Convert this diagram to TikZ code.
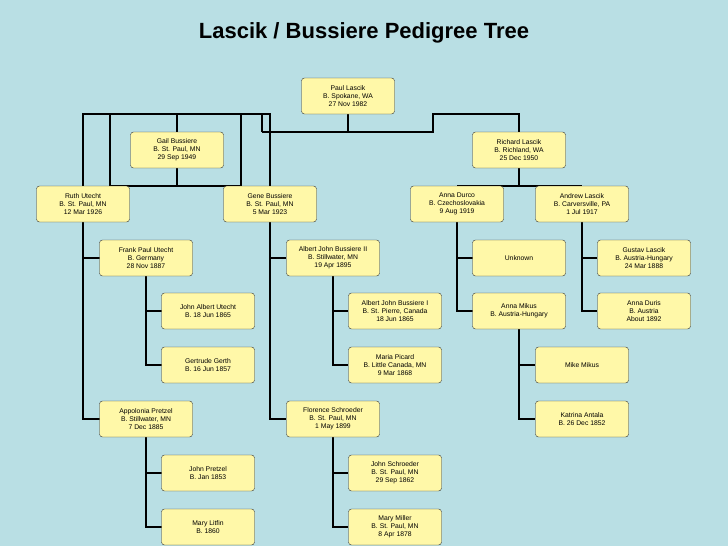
\documentclass[tikz,border=0pt]{standalone}
\usepackage{fontspec}
\setmainfont{Liberation Sans}
\definecolor{bgblue}{HTML}{B9DFE4}
\definecolor{boxyellow}{HTML}{FFF8A8}
\tikzset{
  person/.style={draw=black!80,fill=boxyellow,rounded corners=3pt,minimum width=93pt,minimum height=36pt,
    align=center,font=\fontsize{6.8}{8.2}\selectfont,inner sep=1pt},
  link/.style={line width=2pt,black}
}
\begin{document}
\begin{tikzpicture}[x=1pt,y=-1pt]
        \fill[bgblue] (0,0) rectangle (728,546);
        \node[font=\bfseries\fontsize{22}{26}\selectfont] (title) at (364,33) {Lascik / Bussiere Pedigree Tree};

        % connectors first, boxes are drawn on top
        \coordinate (top) at (348,132);
        \draw[link] (348,114) -- (top);
        \draw[link] (262,132) -- (433,132) -- (433,114) -- (519,114) -- (519,132);
        \draw[link] (262,132) -- (262,114) -- (83,114) -- (83,186);
        \draw[link] (110,114) -- (110,186) -- (242,186);
        \draw[link] (177,114) -- (177,132);
        \draw[link] (177,168) -- (177,186);
        \draw[link] (241,114) -- (241,186);
        \draw[link] (262,114) -- (270,114) -- (270,186);
        \draw[link] (519,168) -- (519,186);
        \draw[link] (457,186) -- (582,186);

        % left side
        \draw[link] (83,222) -- (83,419) -- (100,419);
        \draw[link] (83,258) -- (100,258);
        \draw[link] (146,276) -- (146,365) -- (162,365);
        \draw[link] (146,311) -- (162,311);
        \draw[link] (146,437) -- (146,527) -- (162,527);
        \draw[link] (146,473) -- (162,473);
        \draw[link] (270,222) -- (270,419) -- (286,419);
        \draw[link] (270,258) -- (286,258);
        \draw[link] (333,276) -- (333,365) -- (348,365);
        \draw[link] (333,311) -- (348,311);
        \draw[link] (333,437) -- (333,527) -- (348,527);
        \draw[link] (333,473) -- (348,473);
        % right side
        \draw[link] (457,222) -- (457,311) -- (473,311);
        \draw[link] (457,258) -- (473,258);
        \draw[link] (582,222) -- (582,311) -- (597,311);
        \draw[link] (582,258) -- (597,258);
        \draw[link] (519,329) -- (519,419) -- (535,419);
        \draw[link] (519,365) -- (535,365);

        \node[person] (paul) at (348,96) {Paul Lascik\\B. Spokane, WA\\27 Nov 1982};
        \node[person] (gail) at (177,150) {Gail Bussiere\\B. St. Paul, MN\\29 Sep 1949};
        \node[person] (richard) at (519,150) {Richard Lascik\\B. Richland, WA\\25 Dec 1950};
        \node[person] (ruth) at (83,204) {Ruth Utecht\\B. St. Paul, MN\\12 Mar 1926};
        \node[person] (gene) at (270,204) {Gene Bussiere\\B. St. Paul, MN\\5 Mar 1923};
        \node[person] (durco) at (457,204) {Anna Durco\\B. Czechoslovakia\\9 Aug 1919};
        \node[person] (andrew) at (582,204) {Andrew Lascik\\B. Carversville, PA\\1 Jul 1917};
        \node[person] (frank) at (146,258) {Frank Paul Utecht\\B. Germany\\28 Nov 1887};
        \node[person] (albert2) at (333,258) {Albert John Bussiere II\\B. Stillwater, MN\\19 Apr 1895};
        \node[person] (unknown) at (519,258) {Unknown};
        \node[person] (gustav) at (644,258) {Gustav Lascik\\B. Austria-Hungary\\24 Mar 1888};
        \node[person] (johnalbert) at (208,311) {John Albert Utecht\\B. 18 Jun 1865};
        \node[person] (albert1) at (395,311) {Albert John Bussiere I\\B. St. Pierre, Canada\\18 Jun 1865};
        \node[person] (mikus) at (519,311) {Anna Mikus\\B. Austria-Hungary};
        \node[person] (duris) at (644,311) {Anna Duris\\B. Austria\\About 1892};
        \node[person] (gertrude) at (208,365) {Gertrude Gerth\\B. 16 Jun 1857};
        \node[person] (maria) at (395,365) {Maria Picard\\B. Little Canada, MN\\9 Mar 1868};
        \node[person] (mike) at (582,365) {Mike Mikus};
        \node[person] (appolonia) at (146,419) {Appolonia Pretzel\\B. Stillwater, MN\\7 Dec 1885};
        \node[person] (florence) at (333,419) {Florence Schroeder\\B. St. Paul, MN\\1 May 1899};
        \node[person] (katrina) at (582,419) {Katrina Antala\\B. 26 Dec 1852};
        \node[person] (johnp) at (208,473) {John Pretzel\\B. Jan 1853};
        \node[person] (johns) at (395,473) {John Schroeder\\B. St. Paul, MN\\29 Sep 1862};
        \node[person] (mary) at (208,527) {Mary Litfin\\B. 1860};
        \node[person] (marym) at (395,527) {Mary Miller\\B. St. Paul, MN\\8 Apr 1878};
\end{tikzpicture}
\end{document}
